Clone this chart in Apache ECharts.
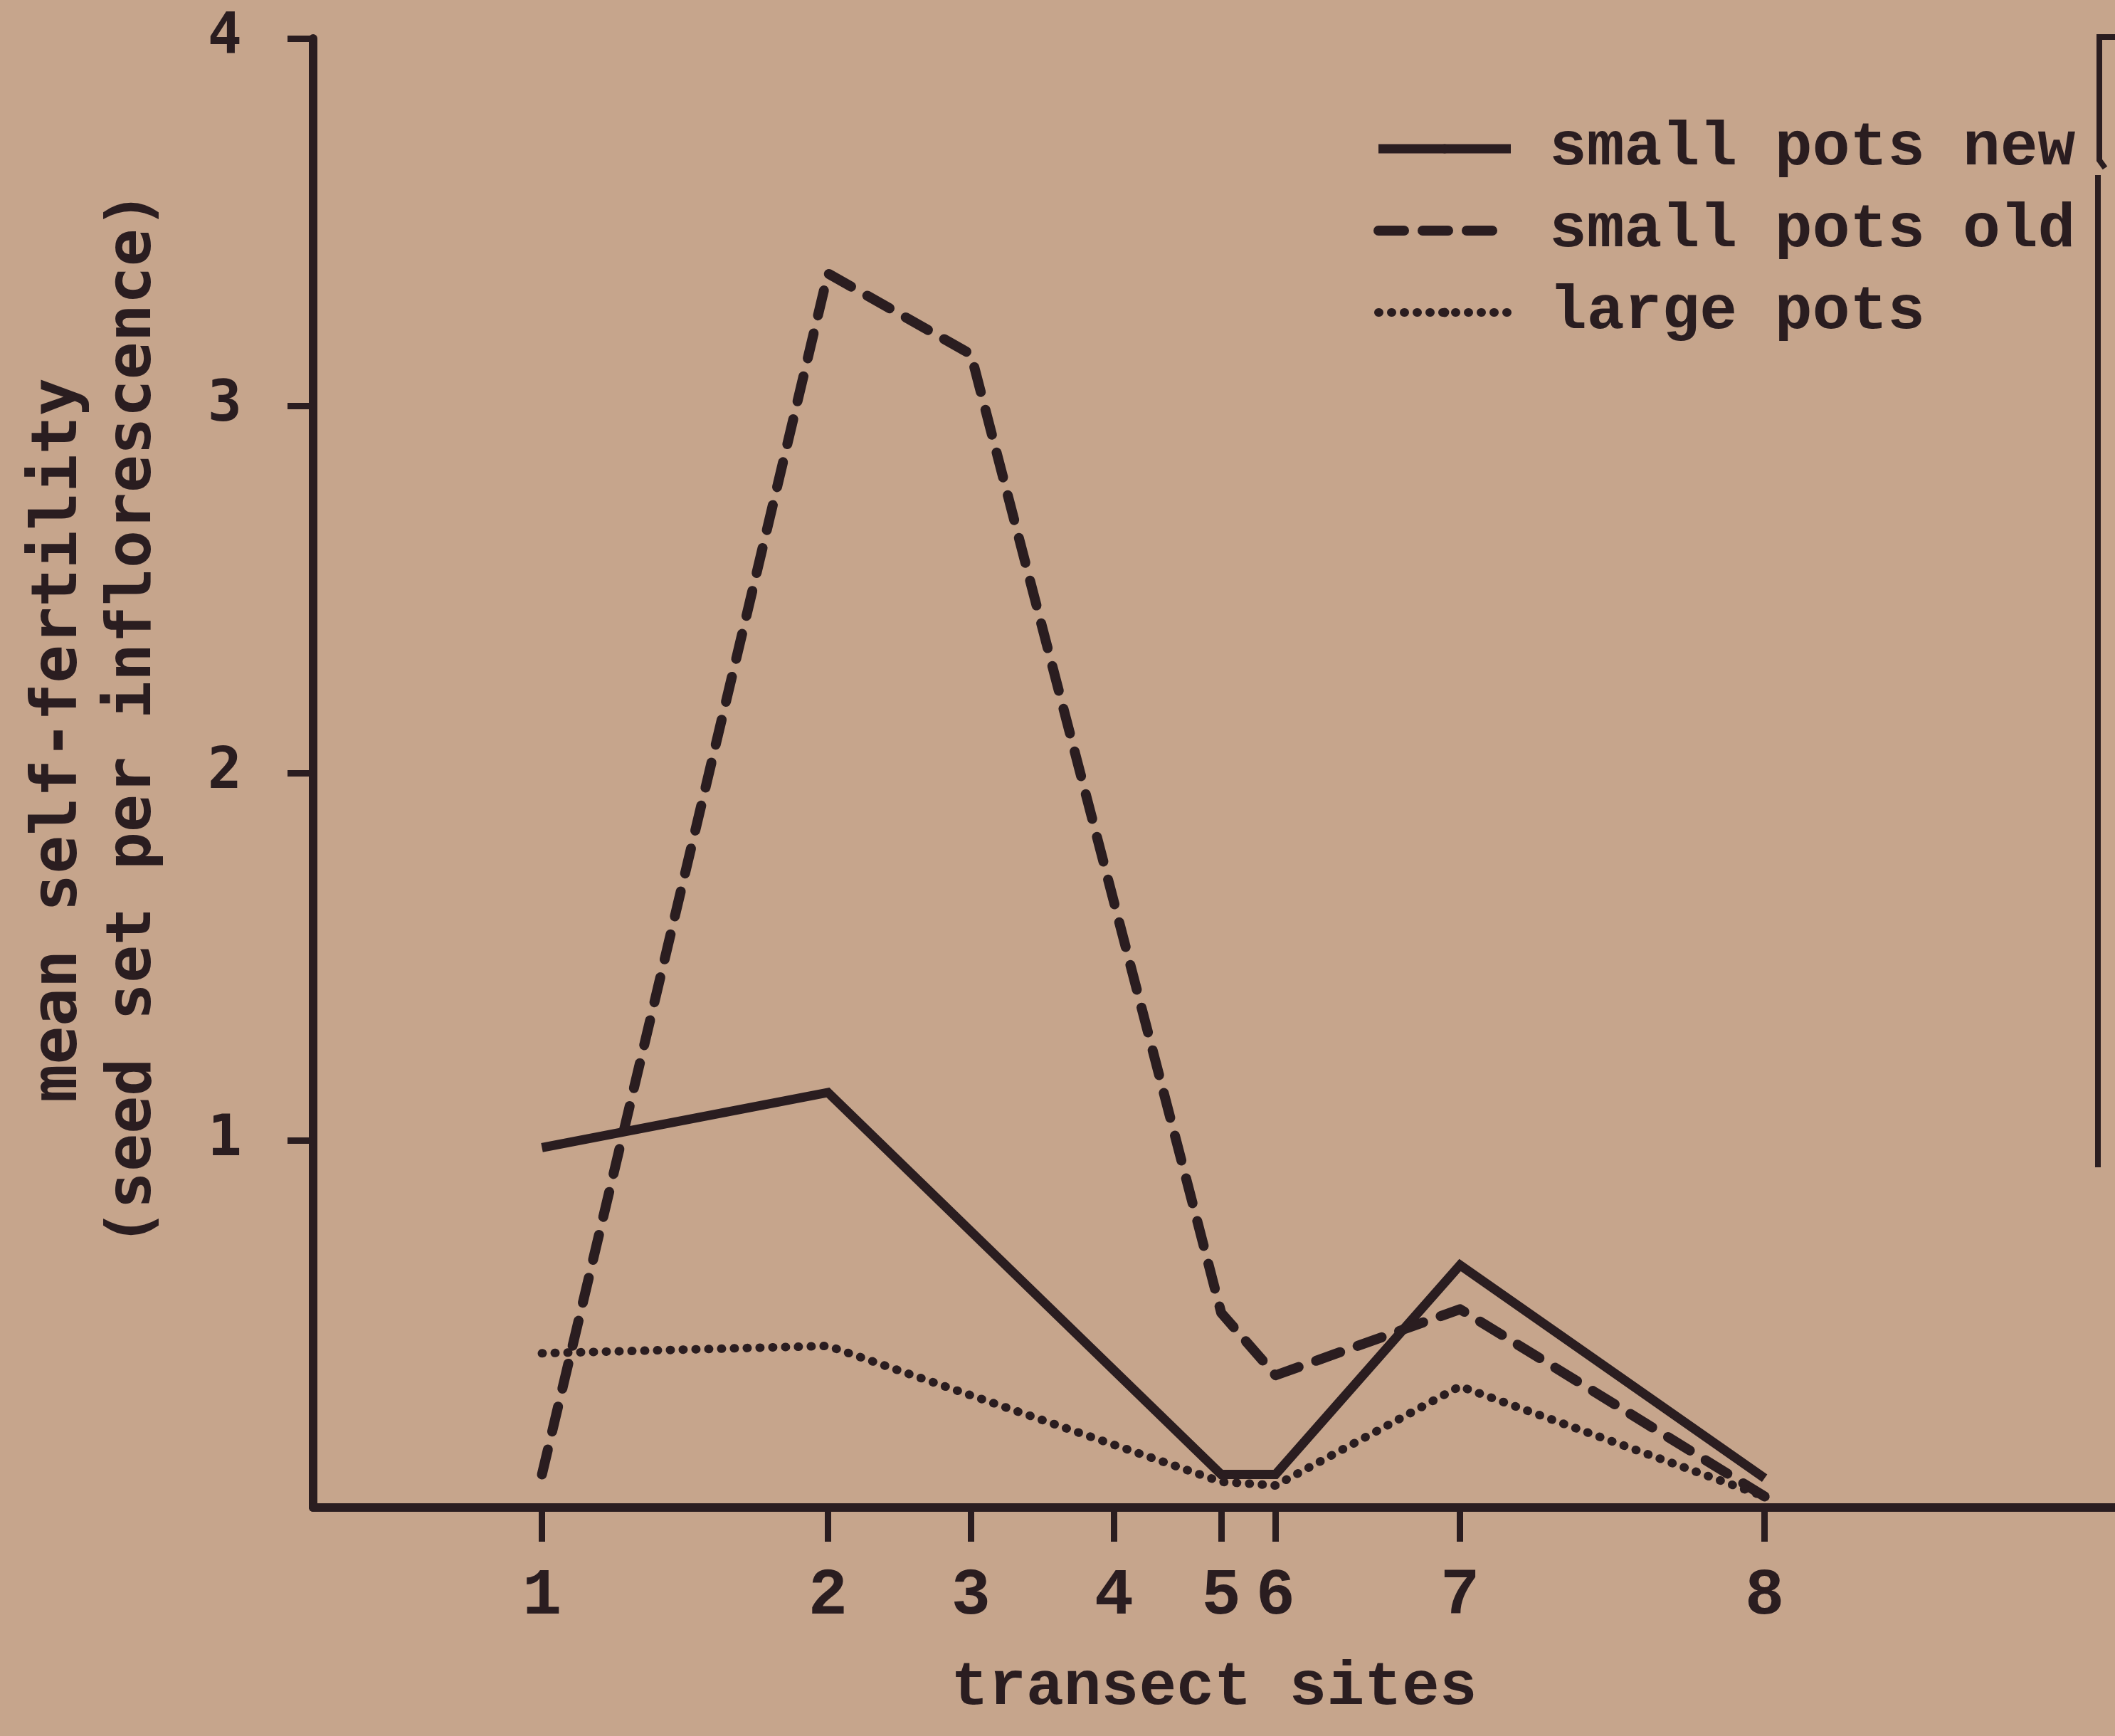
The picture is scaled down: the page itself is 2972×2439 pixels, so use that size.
<!DOCTYPE html>
<html>
<head>
<meta charset="utf-8">
<script src="https://cdn.jsdelivr.net/npm/echarts@6/dist/echarts.min.js"></script>
<style>
  html, body { margin: 0; padding: 0; background: #c6a58c; }
  #chart { width: 2972px; height: 2439px; }
</style>
</head>
<body>
<div id="chart"></div>
<script>
// ---- data ----
const siteLabels = ['1', '2', '3', '4', '5', '6', '7', '8'];
// relative positions of the transect sites along the x axis
const sitePos = [0, 2.0, 3.0, 4.0, 4.75, 5.13, 6.42, 8.55];
const smallPotsNew = [0.98, 1.13, null, null, 0.09, 0.09, 0.66, 0.08];
const smallPotsOld = [0.09, 3.36, 3.14, null, 0.53, 0.36, 0.54, 0.03];
const largePots    = [0.42, 0.44, null, null, 0.07, 0.06, 0.33, 0.03];
const yTickValues = [1, 2, 3, 4];
const seriesNames = ['small pots new', 'small pots old', 'large pots'];
const xTitle = 'transect sites';
const yTitle1 = 'mean self-fertility';
const yTitle2 = '(seed set per inflorescence)';

const ink = '#2a1d20';

function pairs(vals) {
  const out = [];
  vals.forEach((v, i) => { if (v !== null) out.push([sitePos[i], v]); });
  return out;
}
function siteLabelFor(v) {
  let best = 0, bd = Infinity;
  sitePos.forEach((p, i) => { const d = Math.abs(p - v); if (d < bd) { bd = d; best = i; } });
  return siteLabels[best];
}

const chart = echarts.init(document.getElementById('chart'), null, { renderer: 'canvas' });
const option = {
  animation: false,
  backgroundColor: '#c6a58c',
  grid: { left: 440, right: 0, top: 54, bottom: 321, containLabel: false },
  xAxis: {
    type: 'value',
    min: -1.6,
    max: 11,
    splitLine: { show: false },
    axisLine: { show: true, onZero: false, lineStyle: { color: ink, width: 12 } },
    axisTick: { show: true, customValues: sitePos, length: 48, lineStyle: { color: ink, width: 9 } },
    axisLabel: {
      customValues: sitePos,
      formatter: v => siteLabelFor(v),
      margin: 80,
      color: ink,
      fontFamily: 'Liberation Mono',
      fontWeight: 'bold',
      fontSize: 92
    },
    name: xTitle,
    nameLocation: 'middle',
    nameGap: 210,
    nameTextStyle: { color: ink, fontFamily: 'Liberation Mono', fontWeight: 'bold', fontSize: 88 }
  },
  yAxis: {
    type: 'value',
    min: 0,
    max: 4,
    interval: 1,
    splitLine: { show: false },
    axisLine: { show: true, onZero: false, lineStyle: { color: ink, width: 12 } },
    axisTick: { show: true, customValues: yTickValues, length: 36, lineStyle: { color: ink, width: 9 } },
    axisLabel: {
      customValues: yTickValues,
      margin: 100,
      color: ink,
      fontFamily: 'DejaVu Sans Mono',
      fontWeight: 'bold',
      fontSize: 80
    }
  },
  legend: {
    orient: 'vertical',
    left: 1925,
    top: 160,
    itemWidth: 186,
    itemHeight: 16,
    itemGap: 27,
    data: seriesNames,
    lineStyle: { width: 'inherit' },
    textStyle: {
      color: ink,
      fontFamily: 'Liberation Mono',
      fontWeight: 'bold',
      fontSize: 88,
      lineHeight: 88,
      padding: [0, 0, 0, 49]
    }
  },
  series: [
    {
      name: seriesNames[0], type: 'line', symbol: 'none', data: pairs(smallPotsNew),
      lineStyle: { color: ink, width: 13, type: 'solid', join: 'miter' },
      itemStyle: { color: ink }
    },
    {
      name: seriesNames[1], type: 'line', symbol: 'none', data: pairs(smallPotsOld),
      lineStyle: { color: ink, width: 14, type: [36, 26], cap: 'round', join: 'round' },
      itemStyle: { color: ink }
    },
    {
      name: seriesNames[2], type: 'line', symbol: 'none', data: pairs(largePots),
      lineStyle: { color: ink, width: 12, type: [1, 17], cap: 'round', join: 'round' },
      itemStyle: { color: ink }
    }
  ],
  graphic: [
    {
      type: 'text', x: 84, y: 1040, rotation: Math.PI / 2,
      style: { text: yTitle1, fill: ink, font: 'bold 89px "DejaVu Sans Mono"', textAlign: 'center', textVerticalAlign: 'middle' }
    },
    {
      type: 'text', x: 188, y: 1010, rotation: Math.PI / 2,
      style: { text: yTitle2, fill: ink, font: 'bold 88px "DejaVu Sans Mono"', textAlign: 'center', textVerticalAlign: 'middle' }
    },
    {
      type: 'polyline', shape: { points: [[2972, 52], [2950, 52], [2950, 225], [2958, 236]] },
      style: { stroke: ink, lineWidth: 8, fill: null }
    },
    {
      type: 'line', shape: { x1: 2948, y1: 246, x2: 2948, y2: 1640 },
      style: { stroke: ink, lineWidth: 8 }
    }
  ]
};
chart.setOption(option);
</script>
</body>
</html>
